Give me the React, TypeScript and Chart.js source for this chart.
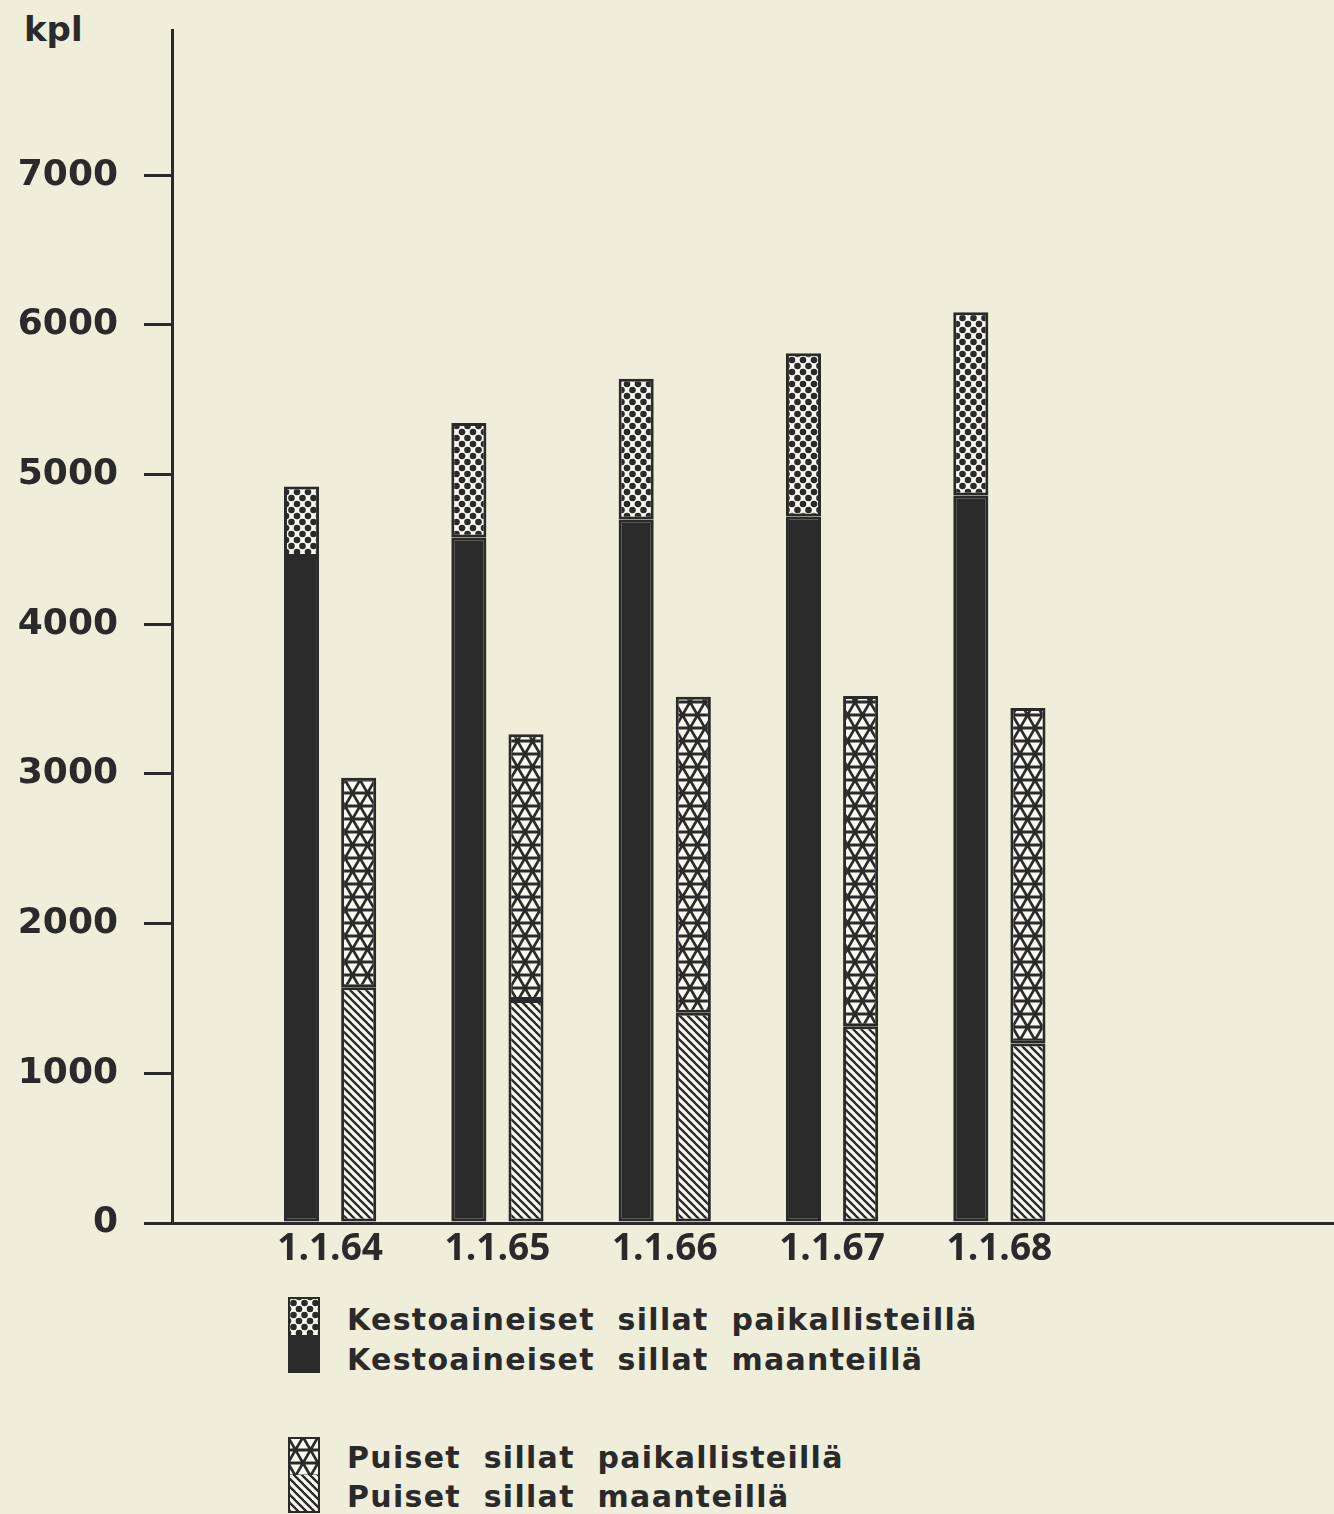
import React, { useEffect, useRef } from "react";
import { Chart, registerables } from "chart.js";

Chart.register(...registerables);

const categories = ["1.1.64", "1.1.65", "1.1.66", "1.1.67", "1.1.68"];
const kestoMaanteilla = [4450, 4580, 4700, 4720, 4860];
const kestoPaikallisteilla = [470, 765, 940, 1090, 1225];
const puisetMaanteilla = [1575, 1490, 1405, 1315, 1200];
const puisetPaikallisteilla = [1400, 1775, 2110, 2205, 2240];
const yTicks = [0, 1000, 2000, 3000, 4000, 5000, 6000, 7000];
const seriesLabels = [
  "Kestoaineiset sillat paikallisteillä",
  "Kestoaineiset sillat maanteillä",
  "Puiset sillat paikallisteillä",
  "Puiset sillat maanteillä",
];
const unitLabel = "kpl";

const INK = "#2a2a2a";
const PAPER = "#efeedb";
const LIGHT = "#f9f9f1";

function makeTile(w: number, h: number, draw: (g: CanvasRenderingContext2D) => void) {
  const c = document.createElement("canvas");
  c.width = w;
  c.height = h;
  const g = c.getContext("2d")!;
  draw(g);
  return c;
}

function dotsTile() {
  return makeTile(11, 12, (g) => {
    g.fillStyle = LIGHT;
    g.fillRect(0, 0, 11, 12);
    g.fillStyle = INK;
    const pts = [
      [0, 0], [11, 0], [0, 12], [11, 12], [5.5, 6],
    ];
    for (const [x, y] of pts) {
      g.beginPath();
      g.arc(x, y, 3.3, 0, Math.PI * 2);
      g.fill();
    }
  });
}

function trianglesTile() {
  return makeTile(15, 26, (g) => {
    g.fillStyle = INK;
    g.fillRect(0, 0, 15, 26);
    g.fillStyle = LIGHT;
    const f = 0.68;
    const tri = (p: number[][]) => {
      const cx = (p[0][0] + p[1][0] + p[2][0]) / 3;
      const cy = (p[0][1] + p[1][1] + p[2][1]) / 3;
      g.beginPath();
      p.forEach(([x, y], i) => {
        const nx = cx + (x - cx) * f;
        const ny = cy + (y - cy) * f;
        if (i === 0) g.moveTo(nx, ny);
        else g.lineTo(nx, ny);
      });
      g.closePath();
      g.fill();
    };
    for (let r = 0; r < 2; r++) {
      const y0 = r * 13;
      const y1 = y0 + 13;
      const shift = r % 2 ? 7.5 : 0;
      for (let k = -1; k <= 1; k++) {
        const x = k * 15 + shift;
        tri([[x, y0], [x - 7.5, y1], [x + 7.5, y1]]);
        tri([[x, y0], [x + 15, y0], [x + 7.5, y1]]);
      }
    }
  });
}

function hatchTile() {
  return makeTile(8, 8, (g) => {
    g.fillStyle = LIGHT;
    g.fillRect(0, 0, 8, 8);
    g.strokeStyle = INK;
    g.lineWidth = 2.4;
    for (const c of [-8, 0, 8]) {
      g.beginPath();
      g.moveTo(-2, -2 + c);
      g.lineTo(10, 10 + c);
      g.stroke();
    }
  });
}

function drawSwatch(cv: HTMLCanvasElement, topTile: HTMLCanvasElement | null, bottomTile: HTMLCanvasElement | null) {
  const g = cv.getContext("2d")!;
  const w = cv.width;
  const h = cv.height;
  g.clearRect(0, 0, w, h);
  if (topTile) {
    g.fillStyle = g.createPattern(topTile, "repeat")!;
  } else g.fillStyle = INK;
  g.fillRect(0, 0, w, h / 2);
  if (bottomTile) {
    g.fillStyle = g.createPattern(bottomTile, "repeat")!;
  } else g.fillStyle = INK;
  g.fillRect(0, h / 2, w, h / 2);
  g.strokeStyle = INK;
  g.lineWidth = 2;
  g.strokeRect(1, 1, w - 2, h - 2);
}

const legendText: React.CSSProperties = {
  position: "absolute",
  left: 347,
  fontFamily: "'DejaVu Sans', sans-serif",
  fontWeight: "bold",
  fontSize: 30,
  lineHeight: "40px",
  letterSpacing: "1.3px",
  wordSpacing: "11px",
  color: INK,
  whiteSpace: "nowrap",
};

export default function App() {
  const canvasRef = useRef<HTMLCanvasElement>(null);
  const sw1 = useRef<HTMLCanvasElement>(null);
  const sw2 = useRef<HTMLCanvasElement>(null);

  useEffect(() => {
    const cv = canvasRef.current!;
    const ctx = cv.getContext("2d")!;
    const dT = dotsTile();
    const tT = trianglesTile();
    const hT = hatchTile();
    const dots = ctx.createPattern(dT, "repeat")!;
    const tris = ctx.createPattern(tT, "repeat")!;
    const hatch = ctx.createPattern(hT, "repeat")!;
    if (sw1.current) drawSwatch(sw1.current, dT, null);
    if (sw2.current) drawSwatch(sw2.current, tT, hT);

    const toPts = (arr: number[]) => arr.map((y, i) => ({ x: i, y }));
    Chart.defaults.font.family = "'DejaVu Sans', sans-serif";

    const chart = new Chart(cv, {
      type: "bar",
      data: {
        datasets: [
          { label: seriesLabels[1], data: toPts(kestoMaanteilla), stack: "kesto", backgroundColor: INK },
          { label: seriesLabels[0], data: toPts(kestoPaikallisteilla), stack: "kesto", backgroundColor: dots },
          { label: seriesLabels[3], data: toPts(puisetMaanteilla), stack: "puiset", backgroundColor: hatch },
          { label: seriesLabels[2], data: toPts(puisetPaikallisteilla), stack: "puiset", backgroundColor: tris },
        ] as any,
      },
      options: {
        responsive: false,
        animation: false,
        layout: { padding: { top: 30, left: 0, right: 0, bottom: 0 } },
        plugins: { legend: { display: false }, tooltip: { enabled: false } },
        datasets: {
          bar: {
            categoryPercentage: 0.683,
            barPercentage: 0.614,
            borderColor: INK,
            borderWidth: 3,
            borderSkipped: false,
          },
        },
        scales: {
          x: {
            type: "linear",
            offset: false,
            min: -0.945,
            max: 6.0,
            afterBuildTicks: (s: any) => {
              s.ticks = categories.map((_, i) => ({ value: i }));
            },
            afterFit: (s: any) => {
              s.height = 67;
              s.paddingLeft = 0;
              s.paddingRight = 0;
            },
            grid: { display: true, drawOnChartArea: false, drawTicks: false },
            border: { display: true, color: INK, width: 3 },
            ticks: {
              callback: (v: any) => categories[v as number] ?? "",
              font: { family: "'Open Sans', sans-serif", size: 37, weight: "bold" },
              color: INK,
              padding: 4,
              maxRotation: 0,
              autoSkip: false,
            },
          },
          y: {
            min: 0,
            max: 7970,
            stacked: true,
            afterBuildTicks: (s: any) => {
              s.ticks = yTicks.map((v) => ({ value: v }));
            },
            afterFit: (s: any) => {
              s.width = 172;
              s.paddingTop = 0;
              s.paddingBottom = 0;
            },
            grid: { drawOnChartArea: false, drawTicks: true, tickLength: 28, color: INK, lineWidth: 3 },
            border: { display: true, color: INK, width: 3 },
            ticks: {
              font: { family: "'DejaVu Sans', sans-serif", size: 36, weight: "bold" },
              color: INK,
              padding: 26,
              callback: (v: any) => String(v),
            },
          },
        },
      } as any,
    });
    return () => chart.destroy();
  }, []);

  return (
    <div
      style={{
        position: "absolute",
        left: 0,
        top: 0,
        width: 1334,
        height: 1514,
        background: PAPER,
        overflow: "hidden",
      }}
    >
      <div
        style={{
          position: "absolute",
          left: 24,
          top: 12,
          fontFamily: "'DejaVu Sans', sans-serif",
          fontWeight: "bold",
          fontSize: 34,
          lineHeight: "34px",
          color: INK,
        }}
      >
        {unitLabel}
      </div>
      <canvas
        ref={canvasRef}
        width={1334}
        height={1290}
        style={{ position: "absolute", left: 0, top: 0, width: 1334, height: 1290 }}
      />
      <canvas
        ref={sw1}
        width={32}
        height={76}
        style={{ position: "absolute", left: 288, top: 1297, width: 32, height: 76 }}
      />
      <canvas
        ref={sw2}
        width={32}
        height={76}
        style={{ position: "absolute", left: 288, top: 1437, width: 32, height: 76 }}
      />
      <div style={{ ...legendText, top: 1300 }}>{seriesLabels[0]}</div>
      <div style={{ ...legendText, top: 1340 }}>{seriesLabels[1]}</div>
      <div style={{ ...legendText, top: 1438 }}>{seriesLabels[2]}</div>
      <div style={{ ...legendText, top: 1477 }}>{seriesLabels[3]}</div>
    </div>
  );
}
